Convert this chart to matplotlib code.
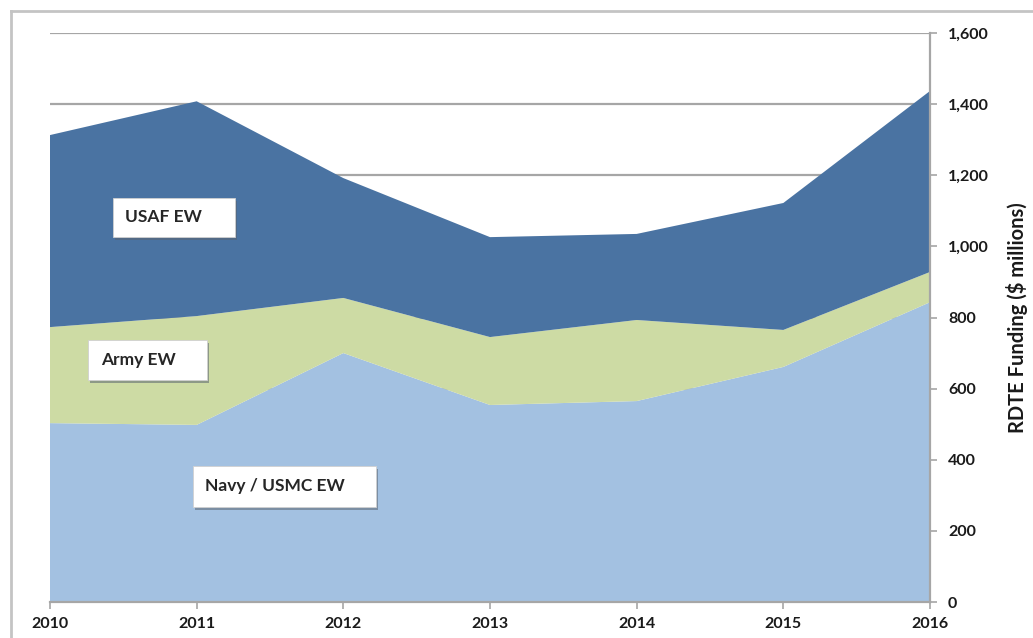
import matplotlib
matplotlib.use("Agg")
import matplotlib.pyplot as plt
from matplotlib.patches import Rectangle
from matplotlib.lines import Line2D
from matplotlib.ticker import FuncFormatter

plt.rcParams['font.family'] = ['Lato', 'DejaVu Sans']

# data ($ millions)
years = [2010, 2011, 2012, 2013, 2014, 2015, 2016]
navy = [503, 498, 700, 554, 565, 661, 843]
army = [270, 306, 155, 191, 228, 104, 85]
usaf = [540, 604, 337, 281, 242, 357, 509]
yticks = [0, 200, 400, 600, 800, 1000, 1200, 1400, 1600]

c_navy = '#a3c1e1'
c_army = '#cddba4'
c_usaf = '#4a73a2'
c_grid = '#a6a6a6'

fig = plt.figure(figsize=(10.33, 6.38), dpi=100)
W, H = 1033, 638

# outer chart frame (top and left edges visible)
fig.add_artist(Line2D([11 / W, 11 / W], [0, 1 - 11 / H], color='#c4c4c4', lw=2))
fig.add_artist(Line2D([11 / W, 1], [1 - 11 / H, 1 - 11 / H], color='#c4c4c4', lw=2))

ax = fig.add_axes([50 / W, 1 - 602 / H, 880 / W, 569 / H])
ax.stackplot(years, navy, army, usaf, colors=[c_navy, c_army, c_usaf],
             linewidth=0, zorder=2)

ax.set_xlim(years[0], years[-1])
ax.set_ylim(0, 1600)
ax.set_yticks(yticks)
ax.set_xticks(years)
for v in yticks[1:]:
    ax.axhline(v, color=c_grid, lw=1.6, zorder=1)

ax.yaxis.tick_right()
ax.yaxis.set_label_position('right')
ax.yaxis.set_major_formatter(FuncFormatter(lambda v, p: f'{int(v):,}'))
for s in ['top', 'left']:
    ax.spines[s].set_visible(False)
for s in ['right', 'bottom']:
    ax.spines[s].set_color(c_grid)
    ax.spines[s].set_linewidth(1.6)
    ax.spines[s].set_zorder(3)
ax.tick_params(axis='both', colors=c_grid, length=5, width=1.2)
ax.tick_params(axis='y', labelcolor='#1a1a1a', labelsize=11.5, pad=8)
ax.tick_params(axis='x', labelcolor='#1a1a1a', labelsize=11.5, pad=6)
for t in ax.get_xticklabels() + ax.get_yticklabels():
    t.set_fontweight('bold')
ax.set_ylabel('RDTE Funding ($ millions)', fontsize=14.5, fontweight='bold',
              color='#1a1a1a', labelpad=12)


def label_box(x0, y0, x1, y1, text, tx):
    # pixel coords of the picture -> figure fraction
    fig.add_artist(Rectangle(((x0 + 2) / W, 1 - (y1 + 3) / H), (x1 - x0) / W, (y1 - y0) / H,
                             facecolor='#5a6470', alpha=0.55, edgecolor='none', zorder=4))
    fig.add_artist(Rectangle((x0 / W, 1 - y1 / H), (x1 - x0) / W, (y1 - y0) / H,
                             facecolor='white', edgecolor='#d0d0d0', lw=0.6, zorder=5))
    fig.text(tx / W, 1 - (y0 + y1) / 2 / H, text, ha='left', va='center',
             fontsize=12.5, fontweight='bold', color='#262626', zorder=6)


label_box(113, 198, 235, 237, 'USAF EW', 125)
label_box(88, 340, 207, 380, 'Army EW', 101)
label_box(193, 466, 376, 507, 'Navy / USMC EW', 205)

fig.savefig('out.png', dpi=100)
